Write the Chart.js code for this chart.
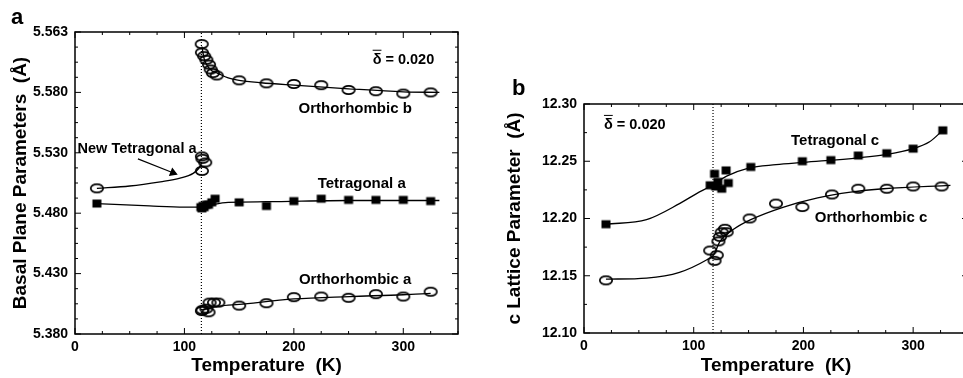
<!DOCTYPE html>
<html>
<head>
<meta charset="utf-8">
<script src="https://cdn.jsdelivr.net/npm/chart.js@4.4.0/dist/chart.umd.min.js"></script>
<style>
  html, body { margin: 0; padding: 0; background: #fff; overflow: hidden; width: 963px; height: 378px; }
  canvas { position: absolute; top: 0; }
  .tag { position: absolute; font: bold 22px "Liberation Sans", Arial, sans-serif; line-height: 22px; color: #000; }
</style>
</head>
<body>
<canvas id="chartA" width="480" height="378" style="left:0"></canvas>
<canvas id="chartB" width="495" height="378" style="left:480px"></canvas>
<div class="tag" style="left:11px;top:6px">a</div>
<div class="tag" style="left:512px;top:77px">b</div>
<script>
// ---- panel a : basal plane parameters (T in K, value in Å) ----
const xTicks = [0, 100, 200, 300]
const yTicksA = [5.380, 5.430, 5.480, 5.530, 5.580, 5.630]
const yTickLabelsA = ['5.380', '5.430', '5.480', '5.530', '5.580', '5.563']

const orthoBT = [115.8, 116, 118, 120, 122.5, 124, 126, 129.5, 150, 175, 200, 225, 250, 275, 300, 325]
const orthoB  = [5.620, 5.613, 5.610, 5.607, 5.603, 5.599, 5.596, 5.594, 5.590, 5.5875, 5.587, 5.586, 5.582, 5.581, 5.579, 5.580]
const newTetAT = [20, 116, 116.5, 119, 116]
const newTetA  = [5.5006, 5.527, 5.525, 5.522, 5.515]
const tetAT = [20, 115, 116, 117, 118, 120, 122, 125, 128, 150, 175, 200, 225, 250, 275, 300, 325]
const tetA  = [5.488, 5.485, 5.484, 5.486, 5.485, 5.487, 5.487, 5.489, 5.492, 5.489, 5.486, 5.490, 5.492, 5.491, 5.491, 5.491, 5.490]
const orthoAT = [116, 116.5, 120, 122, 123, 127, 131, 150, 175, 200, 225, 250, 275, 300, 325]
const orthoA  = [5.399, 5.400, 5.401, 5.398, 5.406, 5.406, 5.406, 5.4035, 5.4055, 5.4105, 5.411, 5.410, 5.413, 5.411, 5.415]

// fitted curves
const fitOrthoBT = [116, 118, 121, 125, 130, 140, 150, 170, 200, 250, 300, 333]
const fitOrthoB  = [5.618, 5.608, 5.602, 5.598, 5.596, 5.592, 5.590, 5.588, 5.586, 5.583, 5.5805, 5.580]
const fitNewTetAT = [20, 50, 78, 96, 108, 113, 116]
const fitNewTetA  = [5.5006, 5.5025, 5.506, 5.509, 5.513, 5.517, 5.522]
const fitTetAT = [20, 68, 100, 115, 125, 140, 175, 250, 333]
const fitTetA  = [5.488, 5.486, 5.485, 5.485, 5.487, 5.489, 5.4895, 5.4905, 5.4905]
const fitOrthoAT = [116, 132, 150, 200, 251, 300, 325]
const fitOrthoA  = [5.400, 5.403, 5.4045, 5.409, 5.411, 5.4125, 5.4137]
const transitionA = 115.5
const arrowT = [57.5, 89.5]
const arrowV = [5.525, 5.5135]

// ---- panel b : c lattice parameter ----
const yTicksB = [12.10, 12.15, 12.20, 12.25, 12.30]
const tetCT = [20, 115, 119, 120, 122, 125.5, 129.5, 131.5, 152, 199, 225, 250, 276, 300, 327]
const tetC  = [12.195, 12.229, 12.239, 12.228, 12.232, 12.226, 12.242, 12.231, 12.245, 12.250, 12.251, 12.255, 12.257, 12.261, 12.277]
const orthoCT = [20, 115, 119, 121, 122.5, 124, 125.5, 128.5, 130, 151, 175, 199, 226, 250, 276, 300, 326]
const orthoC  = [12.146, 12.172, 12.163, 12.168, 12.180, 12.184, 12.188, 12.191, 12.188, 12.200, 12.213, 12.210, 12.221, 12.226, 12.226, 12.228, 12.228]
const fitTetCT = [20, 57, 87, 103, 115, 130, 150, 175, 200, 250, 276, 300, 315, 327]
const fitTetC  = [12.195, 12.199, 12.213, 12.222, 12.228, 12.237, 12.244, 12.247, 12.249, 12.253, 12.256, 12.261, 12.267, 12.277]
const fitOrthoCT = [20, 57, 87, 112, 118, 124, 137, 152, 182, 213, 243, 273, 334]
const fitOrthoC  = [12.147, 12.148, 12.153, 12.164, 12.168, 12.180, 12.191, 12.199, 12.210, 12.218, 12.223, 12.226, 12.229]
const transitionB = 117.6

const FONT = '"Liberation Sans", Arial, sans-serif'
Chart.defaults.font.family = FONT
Chart.defaults.color = '#000'

const xy = (ts, vs) => ts.map((t, i) => ({ x: t, y: vs[i] }))

// open ellipse and filled square markers, as in the scan
const makeMarker = (w, h, filled) => {
    const c = document.createElement('canvas')
    c.width = w + 3
    c.height = h + 3
    const g = c.getContext('2d')
    g.lineWidth = 1.7
    g.strokeStyle = '#000'
    g.fillStyle = '#000'
    if (filled) {
        g.fillRect(1.5, 1.5, w, h)
    } else {
        g.beginPath()
        g.ellipse(c.width / 2, c.height / 2, w / 2 - 0.3, h / 2 - 0.3, 0, 0, Math.PI * 2)
        g.stroke()
    }
    return c
}
const circle = makeMarker(13, 9, false)
const square = makeMarker(9, 8, true)

const fitLine = (data) => ({
    data, showLine: true, borderColor: '#000', borderWidth: 1.3, pointRadius: 0,
    cubicInterpolationMode: 'monotone'
})
const marks = (data, style) => ({ data, showLine: false, pointStyle: style, pointRadius: 6 })
const dotted = (t, lo, hi) => ({
    data: [{ x: t, y: lo }, { x: t, y: hi }], showLine: true, borderColor: '#000',
    borderWidth: 1.2, borderDash: [1, 2], pointRadius: 0
})

// box with inward tick marks on all four sides
const framePlugin = {
    id: 'frame',
    afterDraw(chart, args, opts) {
        const { ctx, chartArea: a, scales: { x, y } } = chart
        ctx.save()
        ctx.strokeStyle = '#000'
        ctx.lineWidth = 1.5
        ctx.strokeRect(a.left, a.top, a.right - a.left, a.bottom - a.top)
        ctx.lineWidth = 1
        ctx.beginPath()
        const nx = Math.round((x.max - x.min) / opts.xMinor)
        for (let i = 0; i <= nx; i++) {
            const v = x.min + i * opts.xMinor
            const px = x.getPixelForValue(v)
            const len = Math.abs(v / opts.xMajor - Math.round(v / opts.xMajor)) < 1e-6 ? 6 : 3
            ctx.moveTo(px, a.bottom); ctx.lineTo(px, a.bottom - len)
            ctx.moveTo(px, a.top); ctx.lineTo(px, a.top + len)
        }
        const ny = Math.round((y.max - y.min) / opts.yMinor)
        for (let i = 0; i <= ny; i++) {
            const v = y.min + i * opts.yMinor
            const py = y.getPixelForValue(v)
            const len = i % Math.round(opts.yMajor / opts.yMinor) === 0 ? 6 : 3
            ctx.moveTo(a.left, py); ctx.lineTo(a.left + len, py)
            ctx.moveTo(a.right, py); ctx.lineTo(a.right - len, py)
        }
        ctx.stroke()
        ctx.restore()
    }
}

// text labels placed in data coordinates
const notesPlugin = {
    id: 'notes',
    afterDraw(chart, args, opts) {
        const { ctx, scales: { x, y } } = chart
        ctx.save()
        ctx.fillStyle = '#000'
        ctx.strokeStyle = '#000'
        ctx.textBaseline = 'alphabetic'
        opts.items.forEach(n => {
            ctx.font = `bold ${n.size}px ${FONT}`
            ctx.textAlign = n.align || 'center'
            const px = x.getPixelForValue(n.x)
            const py = y.getPixelForValue(n.y)
            ctx.fillText(n.text, px, py)
            if (n.overline) {
                const w = ctx.measureText(n.text.charAt(0)).width
                ctx.lineWidth = 1
                ctx.beginPath()
                ctx.moveTo(px, py - n.size * 0.95)
                ctx.lineTo(px + w, py - n.size * 0.95)
                ctx.stroke()
            }
        })
        ctx.restore()
    }
}

const axisFont = { size: 14, weight: 'bold' }
const titleFont = { size: 19, weight: 'bold' }

const makeChart = (id, cfg) => new Chart(document.getElementById(id), {
    type: 'scatter',
    data: { datasets: cfg.datasets },
    options: {
        responsive: false,
        animation: false,
        layout: { padding: cfg.padding },
        plugins: {
            legend: { display: false },
            tooltip: { enabled: false },
            frame: cfg.frame,
            notes: { items: cfg.notes }
        },
        scales: {
            x: {
                type: 'linear', min: 0, max: 350,
                afterBuildTicks: s => { s.ticks = xTicks.map(v => ({ value: v })) },
                afterFit: s => { s.height = cfg.xHeight },
                ticks: { font: axisFont, padding: 5, maxRotation: 0, autoSkip: false, callback: v => String(v) },
                grid: { display: false, drawTicks: false },
                border: { display: false },
                title: { display: true, text: 'Temperature  (K)', font: titleFont, padding: { top: 0, bottom: 1 } }
            },
            y: {
                type: 'linear', min: cfg.yTicks[0], max: cfg.yTicks[cfg.yTicks.length - 1],
                afterBuildTicks: s => { s.ticks = cfg.yTicks.map(v => ({ value: v })) },
                afterFit: s => { s.width = cfg.yWidth },
                ticks: { font: axisFont, padding: 7, autoSkip: false, callback: (v, i) => cfg.yLabels[i] },
                grid: { display: false, drawTicks: false },
                border: { display: false },
                title: { display: true, text: cfg.yTitle, font: titleFont, padding: { top: cfg.yTitlePad, bottom: 0 } }
            }
        }
    },
    plugins: [framePlugin, notesPlugin]
})

makeChart('chartA', {
    padding: { top: 32, right: 22, left: 0, bottom: 0 },
    xHeight: 44, yWidth: 75, yTitlePad: 9,
    yTicks: yTicksA, yLabels: yTickLabelsA,
    yTitle: 'Basal Plane Parameters  (Å)',
    frame: { xMinor: 25, xMajor: 100, yMinor: 0.0125, yMajor: 0.05 },
    notes: [
        { text: 'δ = 0.020', x: 272, y: 5.6035, size: 14.5, align: 'left', overline: true },
        { text: 'Orthorhombic b', x: 256, y: 5.563, size: 15 },
        { text: 'New Tetragonal a', x: 56.7, y: 5.530, size: 14.5 },
        { text: 'Tetragonal a', x: 262, y: 5.501, size: 15 },
        { text: 'Orthorhombic a', x: 256, y: 5.4214, size: 15 }
    ],
    datasets: [
        dotted(transitionA, 5.380, 5.630),
        fitLine(xy(fitOrthoBT, fitOrthoB)),
        fitLine(xy(fitNewTetAT, fitNewTetA)),
        fitLine(xy(fitTetAT, fitTetA)),
        fitLine(xy(fitOrthoAT, fitOrthoA)),
        {
            data: xy(arrowT, arrowV), showLine: true, borderColor: '#000', borderWidth: 1.2,
            pointStyle: 'triangle', pointRadius: [0, 4], rotation: 111.8,
            pointBackgroundColor: '#000', pointBorderColor: '#000'
        },
        marks(xy(orthoBT, orthoB), circle),
        marks(xy(newTetAT, newTetA), circle),
        marks(xy(tetAT, tetA), square),
        marks(xy(orthoAT, orthoA), circle)
    ]
})

makeChart('chartB', {
    padding: { top: 104, right: 6, left: 0, bottom: 0 },
    xHeight: 45, yWidth: 104, yTitlePad: 23.6,
    yTicks: yTicksB, yLabels: yTicksB.map(v => v.toFixed(2)),
    yTitle: 'c Lattice Parameter  (Å)',
    frame: { xMinor: 25, xMajor: 100, yMinor: 0.025, yMajor: 0.05 },
    notes: [
        { text: 'δ = 0.020', x: 18.2, y: 12.278, size: 14.5, align: 'left', overline: true },
        { text: 'Tetragonal c', x: 228.8, y: 12.264, size: 15 },
        { text: 'Orthorhombic c', x: 261.6, y: 12.197, size: 15 }
    ],
    datasets: [
        dotted(transitionB, 12.10, 12.30),
        fitLine(xy(fitTetCT, fitTetC)),
        fitLine(xy(fitOrthoCT, fitOrthoC)),
        marks(xy(tetCT, tetC), square),
        marks(xy(orthoCT, orthoC), circle)
    ]
})
</script>
</body>
</html>
